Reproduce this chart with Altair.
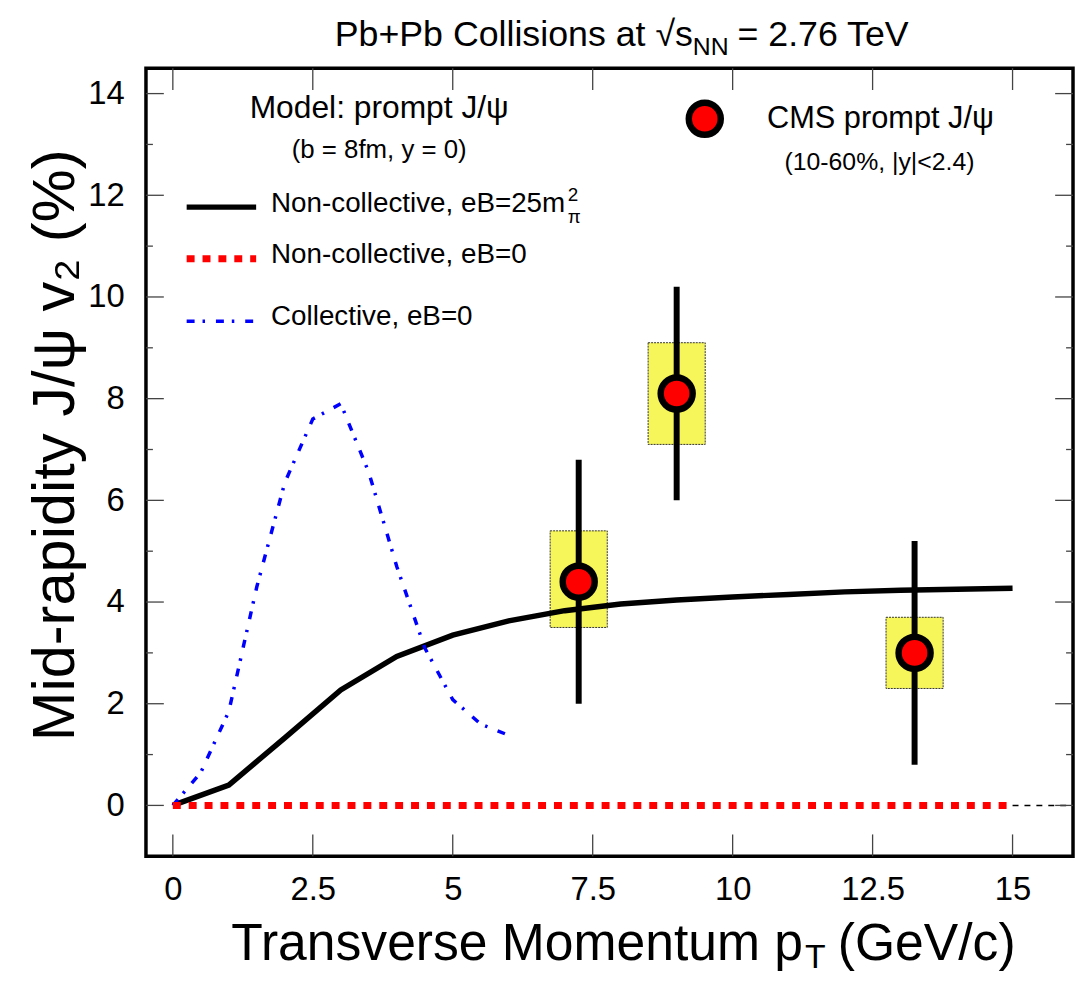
import altair as alt
import pandas as pd

FONT = "Liberation Sans, Arial, Helvetica, sans-serif"

# ---------------- data ----------------
# Non-collective, eB = 25 m_pi^2 (solid black)
nc25_pt = [0, 1, 2, 3, 4, 5, 6, 7, 8, 9, 10, 11, 12, 13, 14, 15]
nc25_v2 = [0, 0.40, 1.33, 2.27, 2.93, 3.35, 3.63, 3.83, 3.96, 4.04, 4.10, 4.15, 4.20, 4.23, 4.25, 4.27]

# Non-collective, eB = 0 (red dotted)
nc0_pt = [0, 15]
nc0_v2 = [0, 0]

# zero reference continuation (thin dashed)
zero_pt = [15, 17]
zero_v2 = [0, 0]

# Collective, eB = 0 (blue dash-dot)
col_pt = [0, 0.5, 1.0, 1.5, 2.0, 2.5, 3.0, 3.5, 4.0, 4.5, 5.0, 5.5, 6.0]
col_v2 = [0, 0.65, 1.85, 4.30, 6.35, 7.60, 7.90, 6.55, 4.70, 3.10, 2.08, 1.60, 1.38]

# CMS prompt J/psi
cms_pt = [7.25, 9.0, 13.25]
cms_v2 = [4.4, 8.1, 3.0]
cms_stat_lo = [2.0, 6.0, 0.8]
cms_stat_hi = [6.8, 10.2, 5.2]
cms_sys_lo = [3.5, 7.1, 2.3]
cms_sys_hi = [5.4, 9.1, 3.7]
cms_box_halfwidth = 0.51

x_ticks = [0, 2.5, 5, 7.5, 10, 12.5, 15]
y_major = [0, 2, 4, 6, 8, 10, 12, 14]
y_minor = [1, 3, 5, 7, 9, 11, 13]

X_DOMAIN = [-0.48, 16.08]
Y_DOMAIN = [-1, 14.5]
W, H = 934, 794

# ---------------- frames ----------------
df_nc25 = pd.DataFrame({"pt": nc25_pt, "v2": nc25_v2})
df_nc0 = pd.DataFrame({"pt": nc0_pt, "v2": nc0_v2})
df_zero = pd.DataFrame({"pt": zero_pt, "v2": zero_v2})
df_col = pd.DataFrame({"pt": col_pt, "v2": col_v2})
df_cms = pd.DataFrame({
    "pt": cms_pt, "v2": cms_v2,
    "lo": cms_stat_lo, "hi": cms_stat_hi,
    "slo": cms_sys_lo, "shi": cms_sys_hi,
    "pl": [p - cms_box_halfwidth for p in cms_pt],
    "pr": [p + cms_box_halfwidth for p in cms_pt],
})
df_xt = pd.DataFrame({"pt": x_ticks})
df_ymaj = pd.DataFrame({"v2": y_major})
df_ymin = pd.DataFrame({"v2": y_minor})
one = pd.DataFrame({"a": [0]})

xscale = alt.Scale(domain=X_DOMAIN, nice=False, zero=False)
yscale = alt.Scale(domain=Y_DOMAIN, nice=False, zero=False)
xaxis = alt.Axis(values=x_ticks, title=None, labelExpr="'' + datum.value",
                 labelPadding=18, labelFlush=False, labelOverlap=False)
yaxis = alt.Axis(values=y_major, title=None, labelPadding=22, labelOverlap=False)


def X(f="pt"):
    return alt.X(f"{f}:Q", scale=xscale, axis=xaxis)


def Y(f="v2"):
    return alt.Y(f"{f}:Q", scale=yscale, axis=yaxis)


def txt(text, x, y, size, align="left", baseline="middle", angle=0):
    return alt.Chart(one).mark_text(
        text=text, align=align, baseline=baseline, fontSize=size, font=FONT,
        angle=angle, color="black"
    ).encode(x=alt.value(x), y=alt.value(y))


def legline(x1, x2, y, color, width, dash=None):
    kw = dict(color=color, strokeWidth=width, strokeCap="butt")
    if dash:
        kw["strokeDash"] = dash
    return alt.Chart(one).mark_rule(**kw).encode(
        x=alt.value(x1), x2=alt.value(x2), y=alt.value(y))


# ---------------- ticks (inward) ----------------
tick_c = "#444444"
ticks = [
    alt.Chart(df_xt).mark_rule(color=tick_c, strokeWidth=1.3).encode(
        x=X(), y=alt.value(H), y2=alt.value(H - 22)),
    alt.Chart(df_xt).mark_rule(color=tick_c, strokeWidth=1.3).encode(
        x=X(), y=alt.value(0), y2=alt.value(22)),
    alt.Chart(df_ymaj).mark_rule(color=tick_c, strokeWidth=1.3).encode(
        y=Y(), x=alt.value(0), x2=alt.value(18)),
    alt.Chart(df_ymin).mark_rule(color=tick_c, strokeWidth=1.3).encode(
        y=Y(), x=alt.value(0), x2=alt.value(7)),
    alt.Chart(df_ymaj).mark_rule(color=tick_c, strokeWidth=1.3).encode(
        y=Y(), x=alt.value(W), x2=alt.value(W - 18)),
    alt.Chart(df_ymin).mark_rule(color=tick_c, strokeWidth=1.3).encode(
        y=Y(), x=alt.value(W), x2=alt.value(W - 7)),
]

# ---------------- data layers ----------------
boxes = alt.Chart(df_cms).mark_rect(
    fill="#f6f65a", stroke="#333333", strokeWidth=1, strokeDash=[2, 1]
).encode(x=X("pl"), x2="pr:Q", y=Y("slo"), y2="shi:Q")

zero_line = alt.Chart(df_zero).mark_line(
    color="black", strokeWidth=1.5, strokeDash=[6, 6], clip=True
).encode(x=X(), y=Y())

line_nc25 = alt.Chart(df_nc25).mark_line(
    color="black", strokeWidth=5.5, strokeJoin="miter"
).encode(x=X(), y=Y())

line_col = alt.Chart(df_col).mark_line(
    color="#0000ff", strokeWidth=3.5, strokeDash=[8, 8, 2.5, 11]
).encode(x=X(), y=Y())

line_nc0 = alt.Chart(df_nc0).mark_line(
    color="#ff0000", strokeWidth=7, strokeDash=[8, 8]
).encode(x=X(), y=Y())

errbars = alt.Chart(df_cms).mark_rule(
    color="black", strokeWidth=6
).encode(x=X(), y=Y("lo"), y2="hi:Q")

points = alt.Chart(df_cms).mark_point(
    shape="circle", filled=False, fill="#ff0000", fillOpacity=1,
    stroke="black", strokeWidth=6.5, size=1040, opacity=1
).encode(x=X(), y=Y())

# ---------------- texts ----------------
texts = [
    # title
    txt("Pb+Pb Collisions at \u221as", 551, -22, 36, align="right", baseline="alphabetic"),
    txt("NN", 551, -13, 25, align="left", baseline="alphabetic"),
    txt("= 2.76 TeV", 596, -22, 36, align="left", baseline="alphabetic"),
    # x title
    txt("Transverse Momentum p", 662, 899, 52, align="right", baseline="alphabetic"),
    txt("T", 664, 907, 34, align="left", baseline="alphabetic"),
    txt("(GeV/c)", 697, 899, 52, align="left", baseline="alphabetic"),
    # y title
    txt("Mid-rapidity J/\u03c8 v\u2082 (%)", -73, 380, 60, align="center",
        baseline="alphabetic", angle=270),
    # model legend
    txt("Model: prompt J/\u03c8", 235, 40, 32, align="center"),
    txt("(b = 8fm, y = 0)", 235, 82, 26, align="center"),
    txt("Non-collective, eB=25m", 126, 137, 28),
    txt("2", 425, 128, 19),
    txt("\u03c0", 425, 150, 19),
    txt("Non-collective, eB=0", 126, 188, 28),
    txt("Collective, eB=0", 126, 251, 28),
    # CMS legend
    txt("CMS prompt J/\u03c8", 740, 51, 31, align="center"),
    txt("(10-60%, |y|<2.4)", 739, 95, 25, align="center"),
]

legend_marks = [
    legline(41, 111, 140, "black", 5.5),
    legline(41, 111, 192, "#ff0000", 7, [8, 8]),
    legline(41, 111, 255, "#0000ff", 3.5, [8, 8, 2.5, 11]),
    alt.Chart(one).mark_point(
        shape="circle", filled=False, fill="#ff0000", fillOpacity=1,
        stroke="black", strokeWidth=6.5, size=1040, opacity=1
    ).encode(x=alt.value(563), y=alt.value(51)),
]

chart = alt.layer(
    boxes, zero_line, line_nc25, line_col, line_nc0, errbars, points,
    *ticks, *legend_marks, *texts
).properties(
    width=W, height=H,
    autosize=alt.AutoSizeParams(type="none"),
    padding={"left": 139, "top": 57, "right": 2, "bottom": 115},
).configure_view(
    stroke="black", strokeWidth=3.5
).configure_axis(
    labelFont=FONT, labelFontSize=33, labelColor="black",
    domain=False, ticks=False, tickSize=0, grid=False
)

chart.save("out.html", embed_options={"renderer": "svg", "actions": False})
